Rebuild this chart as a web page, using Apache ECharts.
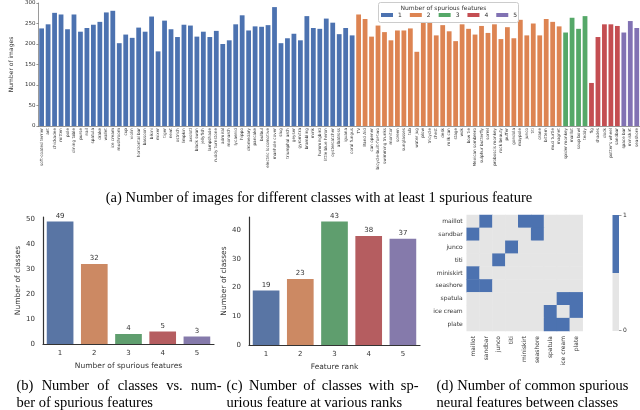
<!DOCTYPE html>
<html><head><meta charset="utf-8">
<script src="https://cdn.jsdelivr.net/npm/echarts@6/dist/echarts.min.js"></script>
<style>html,body{margin:0;padding:0;background:#fff}#c{width:640px;height:410px}</style>
</head><body><div id="c"></div>
<script>
// ---------- data ----------
const classNames = [
 'soft-coated terrier','ant','chickadee','mitten','pole','dining table','purse','nail','spatula','drake',
 'wallet','ice cream','mushroom','cup','violin','horizontal bar','bassoon','bikini','mixer','tiger',
 'newt','ostrich','limpkin','axolotl','black swan','jellyfish','lampshade','ruddy turnstone','admiral','monarch',
 'lycaenid','hippo','dromedary','pancake','bulbul','electric locomotive','manhole cover','slug','triumphal arch','geyser',
 'gyromitra','brambling','mink','hummingbird','little blue heron','oystercatcher','albatross','iguana','coral fungus',
 'TV','Band Aid','can opener','bicycle-built-for-two','swimming trunks','monitor','screen','sunglasses','tub','water jug',
 'plow','tricycle','chest','desk','milk can','stage','wok','bow tie','Mexican sombrero','sulphur butterfly',
 'sorrel','proboscis monkey','rock beauty','puffer','gondola','maypole','junco','titi','crane','bittern',
 'mud turtle','magnet',
 'spider monkey','maillot','soup bowl','teddy',
 'fig','shades','dock',"potter's wheel",'sandbar',
 'space bar','miniskirt','seashore'
];
const imagesOneFeature = [238,248,276,272,236,272,230,239,247,254,277,281,202,223,215,240,230,267,182,257,
 236,217,247,245,218,230,217,232,200,209,248,270,233,243,242,246,290,202,214,225,
 209,268,239,237,262,252,224,239,221];
const imagesTwoFeatures = [272,261,218,245,229,209,233,233,238,181,254,254,221,246,231,207,248,237,223,244,
 227,248,212,241,214,259,221,250,221,261,254,243];
const imagesThreeFeatures = [228,264,237,268];
const imagesFourFeatures = [105,217,248,248,244];
const imagesFiveFeatures = [228,256,239];
const groupNames = ['1','2','3','4','5'];

const spuriousCountLabels = ['1','2','3','4','5'];
const classesPerCount = [49,32,4,5,3];
const rankLabels = ['1','2','3','4','5'];
const classesPerRank = [19,23,43,38,37];

const heatClasses = ['maillot','sandbar','junco','titi','miniskirt','seashore','spatula','ice cream','plate'];
const commonFeatures = [
 [0,1,0,0,1,1,0,0,0],
 [1,0,0,0,0,1,0,0,0],
 [0,0,0,1,0,0,0,0,0],
 [0,0,1,0,0,0,0,0,0],
 [1,0,0,0,0,0,0,0,0],
 [1,1,0,0,0,0,0,0,0],
 [0,0,0,0,0,0,0,1,1],
 [0,0,0,0,0,0,1,0,1],
 [0,0,0,0,0,0,1,1,0]
];

// ---------- styling ----------
const deep = ['#4C72B0','#DD8452','#55A868','#C44E52','#8172B3'];
const muted = ['#5975a4','#cc8963','#5f9e6e','#b55d60','#857aab'];
const sans = 'DejaVu Sans';
const serif = 'Liberation Serif';
const txt = '#333';
const capSize = 14.5;

const groups = [imagesOneFeature,imagesTwoFeatures,imagesThreeFeatures,imagesFourFeatures,imagesFiveFeatures];
const topSeries = [];
let offset = 0;
groups.forEach((g, gi) => {
  const arr = classNames.map(() => '-');
  g.forEach((v, i) => { arr[offset + i] = v; });
  offset += g.length;
  topSeries.push({
    type: 'bar', name: groupNames[gi], xAxisIndex: 0, yAxisIndex: 0,
    data: arr, barGap: '-100%', barWidth: '74%',
    itemStyle: { color: deep[gi] }, silent: true
  });
});

const meas = document.createElement('canvas').getContext('2d');
function captionLine(text, x, y, width, size, justify) {
  const font = size + 'px "' + serif + '"';
  if (!justify) return [{ type: 'text', x: x, y: y, style: { text: text, font: font, fill: '#000', textVerticalAlign: 'middle' } }];
  meas.font = font;
  const words = text.split(' ');
  const ws = words.map(w => meas.measureText(w).width);
  const total = ws.reduce((a, b) => a + b, 0);
  const gap = Math.max((width - total) / (words.length - 1), size * 0.2);
  const out = []; let cx = x;
  words.forEach((w, i) => {
    out.push({ type: 'text', x: cx, y: y, style: { text: w, font: font, fill: '#000', textVerticalAlign: 'middle' } });
    cx += ws[i] + gap;
  });
  return out;
}

const chart = echarts.init(document.getElementById('c'), null, { renderer: 'canvas' });

const heatData = [];
commonFeatures.forEach((row, r) => row.forEach((v, c) => heatData.push([c, r, v])));

const graphics = [
  { type: 'rect', shape: { x: 378.5, y: 2.5, width: 140, height: 20, r: 2 }, style: { fill: 'rgba(255,255,255,0.85)', stroke: '#ccc', lineWidth: 1 }, z: 5 },
  { type: 'text', x: 443.5, y: 8, z: 6, style: { text: 'Number of spurious features', font: '6px "' + sans + '"', fill: txt, textAlign: 'center', textVerticalAlign: 'middle' } },
  { type: 'rect', shape: { x: 612.5, y: 215, width: 6.5, height: 58 }, style: { fill: deep[0] } },
  { type: 'rect', shape: { x: 612.5, y: 273, width: 6.5, height: 58 }, style: { fill: '#e5e5e5' } },
  { type: 'line', shape: { x1: 619, y1: 215.5, x2: 621.5, y2: 215.5 }, style: { stroke: '#555', lineWidth: 0.6 } },
  { type: 'line', shape: { x1: 619, y1: 330.5, x2: 621.5, y2: 330.5 }, style: { stroke: '#555', lineWidth: 0.6 } },
  { type: 'text', x: 623, y: 215.5, style: { text: '1', font: '6px "' + sans + '"', fill: txt, textVerticalAlign: 'middle' } },
  { type: 'text', x: 623, y: 330.5, style: { text: '0', font: '6px "' + sans + '"', fill: txt, textVerticalAlign: 'middle' } }
].concat(
  [{ type: 'text', x: 319, y: 198, style: { text: '(a) Number of images for different classes with at least 1 spurious feature', font: capSize + 'px "' + serif + '"', fill: '#000', textAlign: 'center', textVerticalAlign: 'middle' } }],
  captionLine('(b) Number of classes vs. num-', 16.5, 386, 205, capSize, true),
  captionLine('ber of spurious features', 16.5, 403, 0, capSize, false),
  captionLine('(c) Number of classes with sp-', 226.5, 386, 192, capSize, true),
  captionLine('urious feature at various ranks', 226.5, 403, 0, capSize, false),
  captionLine('(d) Number of common spurious', 436.5, 386, 192, capSize, true),
  captionLine('neural features between classes', 436.5, 403, 0, capSize, false)
);

const smallAxisLine = { show: true, lineStyle: { color: '#333', width: 1.2 } };

chart.setOption({
  animation: false,
  backgroundColor: '#fff',
  textStyle: { fontFamily: sans },
  legend: {
    data: groupNames, left: 381, top: 12, itemWidth: 12, itemHeight: 4, itemGap: 8,
    icon: 'rect', textStyle: { fontSize: 6, color: txt, fontFamily: sans }, padding: 0, z: 7
  },
  grid: [
    { left: 27, top: 3, width: 613, height: 123 },
    { left: 43, top: 217, width: 171, height: 127 },
    { left: 249, top: 217, width: 171, height: 128 },
    { left: 466.7, top: 215, width: 116, height: 116 }
  ],
  xAxis: [
    { gridIndex: 0, type: 'category', data: classNames,
      axisLine: { show: true, lineStyle: { color: '#555', width: 0.6 } }, axisTick: { show: false },
      axisLabel: { interval: 0, rotate: 90, fontSize: 4.2, color: txt, margin: 2, hideOverlap: false } },
    { gridIndex: 1, type: 'category', data: spuriousCountLabels,
      axisLine: smallAxisLine, axisTick: { show: false },
      axisLabel: { fontSize: 7, color: txt, margin: 6 },
      name: 'Number of spurious features', nameLocation: 'middle', nameGap: 18, nameTextStyle: { fontSize: 7.5, color: txt } },
    { gridIndex: 2, type: 'category', data: rankLabels,
      axisLine: smallAxisLine, axisTick: { show: false },
      axisLabel: { fontSize: 7, color: txt, margin: 6 },
      name: 'Feature rank', nameLocation: 'middle', nameGap: 18, nameTextStyle: { fontSize: 7.5, color: txt } },
    { gridIndex: 3, type: 'category', data: heatClasses,
      axisLine: { show: false }, axisTick: { show: false }, splitArea: { show: false },
      axisLabel: { interval: 0, rotate: 90, fontSize: 6, color: txt, margin: 5 } }
  ],
  yAxis: [
    { gridIndex: 0, type: 'value', min: 0, max: 300, interval: 50,
      axisLine: { show: true, lineStyle: { color: '#555', width: 0.6 } }, axisTick: { show: true, length: 2, lineStyle: { color: '#555', width: 0.6 } }, splitLine: { show: false },
      axisLabel: { fontSize: 5.5, color: txt, margin: 3 },
      name: 'Number of images', nameLocation: 'middle', nameGap: 16, nameTextStyle: { fontSize: 6, color: txt } },
    { gridIndex: 1, type: 'value', min: 0, max: 50.8, interval: 10,
      axisLine: smallAxisLine, axisTick: { show: false }, splitLine: { show: false },
      axisLabel: { fontSize: 7, color: txt, margin: 8, showMaxLabel: false },
      name: 'Number of classes', nameLocation: 'middle', nameGap: 21, nameTextStyle: { fontSize: 7.5, color: txt } },
    { gridIndex: 2, type: 'value', min: 0, max: 44.6, interval: 10,
      axisLine: smallAxisLine, axisTick: { show: false }, splitLine: { show: false },
      axisLabel: { fontSize: 7, color: txt, margin: 8, showMaxLabel: false },
      name: 'Number of classes', nameLocation: 'middle', nameGap: 21, nameTextStyle: { fontSize: 7.5, color: txt } },
    { gridIndex: 3, type: 'category', data: heatClasses, inverse: true,
      axisLine: { show: false }, axisTick: { show: false }, splitArea: { show: false },
      axisLabel: { interval: 0, fontSize: 6, color: txt, margin: 4 } }
  ],
  visualMap: {
    type: 'piecewise', show: false, seriesIndex: 7, dimension: 2,
    pieces: [{ value: 0, color: '#e5e5e5' }, { value: 1, color: deep[0] }]
  },
  series: topSeries.concat([
    { type: 'bar', xAxisIndex: 1, yAxisIndex: 1, barWidth: '78%', silent: true,
      data: classesPerCount.map((v, i) => ({ value: v, itemStyle: { color: muted[i] } })),
      label: { show: true, position: 'top', distance: 2, fontSize: 7, color: txt } },
    { type: 'bar', xAxisIndex: 2, yAxisIndex: 2, barWidth: '78%', silent: true,
      data: classesPerRank.map((v, i) => ({ value: v, itemStyle: { color: muted[i] } })),
      label: { show: true, position: 'top', distance: 2, fontSize: 7, color: txt } },
    { type: 'heatmap', xAxisIndex: 3, yAxisIndex: 3, data: heatData, silent: true,
      itemStyle: { borderWidth: 0 } }
  ]),
  graphic: graphics
});
</script></body></html>
